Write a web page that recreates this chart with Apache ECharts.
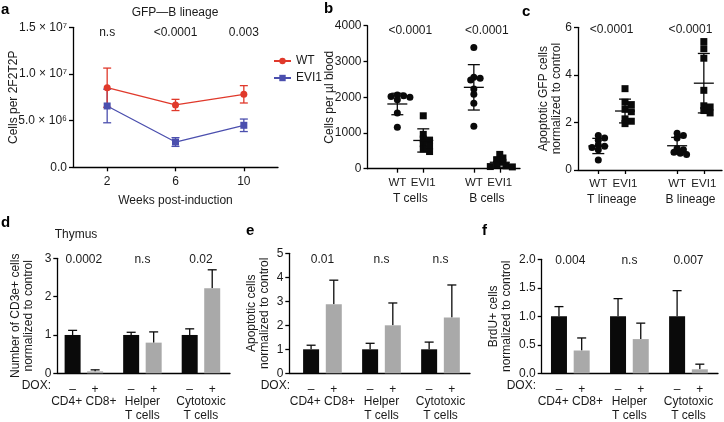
<!DOCTYPE html>
<html><head><meta charset="utf-8">
<script src="https://cdn.jsdelivr.net/npm/echarts@6/dist/echarts.min.js"></script>
<style>html,body{margin:0;padding:0;background:#fff}#c{width:724px;height:422px}</style>
</head><body><div id="c"></div>
<script>
// ---------- DATA ----------
// Panel a: GFP—B lineage
const aWeeks = [2, 6, 10];
const aWtMean = [8.53e6, 6.68e6, 7.82e6];
const aWtErr = [2.1e6, 0.6e6, 0.93e6];
const aEviMean = [6.57e6, 2.71e6, 4.50e6];
const aEviErr = [1.8e6, 0.47e6, 0.67e6];
const aPvals = ['n.s', '<0.0001', '0.003'];
const aYTickLabels = {0: '0.0', 5000000: '5.0 × 10⁶', 10000000: '1.0 × 10⁷', 15000000: '1.5 × 10⁷'};

// Panel b: cells per µl blood
const bCategories = ['WT', 'EVI1', 'WT', 'EVI1'];
const bGroups = ['T cells', 'B cells'];
const bPvals = ['<0.0001', '<0.0001'];
const bWtT = [2060, 2040, 2020, 2000, 1930, 1560, 1160];
const bEviT = [1480, 960, 830, 800, 700, 630, 550, 480];
const bWtB = [3390, 2560, 2530, 2480, 2230, 2080, 1830, 1190];
const bEviB = [400, 300, 250, 180, 120, 80, 60, 50];
const bMeans = [1810, 790, 2276, 180];
const bSD = [300, 325, 635, 140];

// Panel c: apoptotic GFP cells normalized to control
const cCategories = ['WT', 'EVI1', 'WT', 'EVI1'];
const cGroups = ['T lineage', 'B lineage'];
const cPvals = ['<0.0001', '<0.0001'];
const cWtT = [1.45, 1.35, 1.25, 1.05, 1.0, 0.95, 0.85, 0.42];
const cEviT = [3.42, 2.85, 2.75, 2.55, 2.45, 2.15, 2.05, 1.95];
const cWtB = [1.55, 1.45, 1.35, 0.9, 0.85, 0.75, 0.7, 0.65];
const cEviB = [5.40, 5.10, 4.70, 3.35, 2.70, 2.65, 2.50, 2.40];
const cMeans = [1.01, 2.48, 1.02, 3.65];
const cSD = [0.32, 0.50, 0.35, 1.25];

// Panels d, e, f: bar charts (−/+ DOX per group)
const defDox = ['–', '+', '–', '+', '–', '+'];
const defGroups = ['CD4+ CD8+', 'Helper\nT cells', 'Cytotoxic\nT cells'];
const dMeans = [1.0, 0.05, 1.0, 0.8, 1.0, 2.22];
const dErr = [0.12, 0.04, 0.07, 0.28, 0.16, 0.48];
const dPvals = ['0.0002', 'n.s', '0.02'];
const eMeans = [1.0, 2.88, 1.0, 2.0, 1.0, 2.33];
const eErr = [0.17, 1.0, 0.25, 0.93, 0.3, 1.35];
const ePvals = ['0.01', 'n.s', 'n.s'];
const fMeans = [1.0, 0.40, 1.0, 0.6, 1.0, 0.07];
const fErr = [0.17, 0.22, 0.31, 0.28, 0.45, 0.09];
const fPvals = ['0.004', 'n.s', '0.007'];

// ---------- LAYOUT ----------
const FONT = '"Liberation Sans", Arial, Helvetica, sans-serif';
const TXT = '#1a1a1a';
const RED = '#e0392b', BLUE = '#4b4fae', BLACK = '#0a0a0a', GREY = '#a9a9a9';
const posBC = [1, 2, 3.95, 4.95];
const grpBC = [1.5, 4.45];
const posDEF = [0, 1, 2.6, 3.6, 5.2, 6.2];
const grpDEF = [0.5, 3.1, 5.7];

const chart = echarts.init(document.getElementById('c'), null, {renderer: 'canvas'});

const lineS = {color: '#000', width: 1.3};
function labelFor(list, positions) {
  return v => { const i = positions.findIndex(p => Math.abs(p - v) < 1e-6); return i >= 0 ? list[i] : ''; };
}
function mainX(grid, min, max, positions, names, fs, margin, ticks) {
  return {gridIndex: grid, type: 'value', min, max, position: 'bottom',
    axisLine: {show: true, onZero: false, lineStyle: lineS},
    axisTick: ticks ? {show: true, customValues: positions, length: 4, lineStyle: lineS} : {show: false},
    axisLabel: {customValues: positions, formatter: labelFor(names, positions), color: TXT, fontSize: fs, fontFamily: FONT, margin, hideOverlap: false},
    splitLine: {show: false}};
}
function groupX(grid, min, max, positions, names, fs, offset) {
  return {gridIndex: grid, type: 'value', min, max, position: 'bottom', offset,
    axisLine: {show: false}, axisTick: {show: false},
    axisLabel: {customValues: positions, formatter: labelFor(names, positions), color: TXT, fontSize: fs, fontFamily: FONT, margin: 4},
    splitLine: {show: false}};
}
function yAx(grid, min, max, interval, name, gap, fs, fmt) {
  return {gridIndex: grid, type: 'value', min, max, interval,
    name, nameLocation: 'middle', nameRotate: 90, nameGap: gap, nameMoveOverlap: false,
    nameTextStyle: {color: TXT, fontSize: 12, fontFamily: FONT, lineHeight: 13},
    axisLine: {show: true, onZero: false, lineStyle: lineS},
    axisTick: {show: true, length: 4, lineStyle: lineS},
    axisLabel: {color: TXT, fontSize: fs, fontFamily: FONT, margin: 6, formatter: fmt || (v => String(v))},
    splitLine: {show: false}};
}
function errBars(xi, yi, data, color, cap, oneSided, meanW, z) {
  return {type: 'custom', xAxisIndex: xi, yAxisIndex: yi, data, z, silent: true,
    renderItem(params, api) {
      const x = api.value(0), m = api.value(1), e = api.value(2);
      const t = api.coord([x, m + e]);
      const b = api.coord(oneSided ? [x, m] : [x, m - e]);
      const c = api.coord([x, m]);
      const st = {stroke: color, lineWidth: 1.3};
      const ch = [
        {type: 'line', shape: {x1: t[0], y1: t[1], x2: b[0], y2: b[1]}, style: st},
        {type: 'line', shape: {x1: t[0] - cap / 2, y1: t[1], x2: t[0] + cap / 2, y2: t[1]}, style: st}
      ];
      if (!oneSided) ch.push({type: 'line', shape: {x1: b[0] - cap / 2, y1: b[1], x2: b[0] + cap / 2, y2: b[1]}, style: st});
      if (meanW) ch.push({type: 'line', shape: {x1: c[0] - meanW / 2, y1: c[1], x2: c[0] + meanW / 2, y2: c[1]}, style: st});
      return {type: 'group', children: ch};
    }};
}
// text anchored to axis coordinates (p-values, group captions)
function textSeries(xi, yi, xs, yVal, texts, dy) {
  return {type: 'custom', xAxisIndex: xi, yAxisIndex: yi, silent: true, z: 6, clip: false,
    data: xs.map(x => [x, yVal]),
    renderItem(params, api) {
      const p = api.coord([api.value(0), api.value(1)]);
      return {type: 'text', x: p[0], y: p[1] + dy,
        style: {text: texts[params.dataIndex], fill: TXT, font: '12px ' + FONT,
          textAlign: 'center', textVerticalAlign: 'top', lineHeight: 14}};
    }};
}
// simple deterministic beeswarm so that overlapping points spread sideways
function swarm(values, pos, pxPerX, pxPerY, d) {
  const order = values.map((v, i) => i).sort((i, j) => values[j] - values[i]);
  const placed = [], out = [];
  order.forEach(i => {
    const y = values[i] * pxPerY;
    const cands = [0];
    for (let k = 1; k < 12; k++) cands.push(k * d * 0.45, -k * d * 0.45);
    for (const c of cands) {
      if (placed.every(p => Math.hypot(p[0] - c, p[1] - y) >= d * 0.6)) {
        placed.push([c, y]); out.push([pos + c / pxPerX, values[i]]); break;
      }
    }
  });
  return out;
}

// grids (pixel layout)
const grids = [
  {left: 73, top: 27.3, width: 205, height: 140},      // a
  {left: 367.5, top: 25.7, width: 152.5, height: 143}, // b
  {left: 578, top: 27.3, width: 144, height: 142.7},   // c
  {left: 57.3, top: 258.3, width: 172.7, height: 115}, // d
  {left: 289.3, top: 253.3, width: 180.7, height: 120},// e
  {left: 541.7, top: 259.3, width: 176.3, height: 114} // f
];
const bMin = -0.15, bMax = 5.73, cMin = 0.24, cMax = 5.63;
const dMin = -0.68, dMax = 6.99, eMin = -0.96, eMax = 7.0, fMin = -0.76, fMax = 7.0;

const xAxes = [
  // a
  {gridIndex: 0, type: 'value', min: 0, max: 12,
    name: 'Weeks post-induction', nameLocation: 'middle', nameGap: 27, nameMoveOverlap: false,
    nameTextStyle: {color: TXT, fontSize: 12, fontFamily: FONT},
    axisLine: {show: true, onZero: false, lineStyle: lineS},
    axisTick: {show: true, customValues: aWeeks, length: 4, lineStyle: lineS},
    axisLabel: {customValues: aWeeks, color: TXT, fontSize: 12, fontFamily: FONT, margin: 8},
    splitLine: {show: false}},
  mainX(1, bMin, bMax, posBC, bCategories, 11.5, 8, true),
  groupX(1, bMin, bMax, grpBC, bGroups, 12, 20),
  mainX(2, cMin, cMax, posBC, cCategories, 11.5, 8, true),
  groupX(2, cMin, cMax, grpBC, cGroups, 12, 20),
  mainX(3, dMin, dMax, posDEF, defDox, 12, 10, false),
  mainX(4, eMin, eMax, posDEF, defDox, 12, 10, false),
  mainX(5, fMin, fMax, posDEF, defDox, 12, 10, false)
];
const yAxes = [
  yAx(0, 0, 1.5e7, 5e6, 'Cells per 2F2T2P', 53, 12, v => aYTickLabels[v]),
  yAx(1, 0, 4000, 1000, 'Cells per µl blood', 31, 12),
  yAx(2, 0, 6, 2, 'Apoptotic GFP cells\nnormalized to control', 15, 12),
  yAx(3, 0, 3, 1, 'Number of CD3e+ cells\nnormalized to control', 22, 12),
  yAx(4, 0, 5, 1, 'Apoptotic cells\nnormalized to control', 18, 12),
  yAx(5, 0, 2, 0.5, 'BrdU+ cells\nnormalized to control', 29, 12, v => v.toFixed(1))
];

const series = [];
// ---- a ----
series.push(errBars(0, 0, aWeeks.map((w, i) => [w, aEviMean[i], aEviErr[i]]), BLUE, 8, false, 0, 2));
series.push(errBars(0, 0, aWeeks.map((w, i) => [w, aWtMean[i], aWtErr[i]]), RED, 8, false, 0, 3));
series.push({type: 'line', name: 'WT', xAxisIndex: 0, yAxisIndex: 0, z: 4,
  data: aWeeks.map((w, i) => [w, aWtMean[i]]), symbol: 'circle', symbolSize: 7,
  itemStyle: {color: RED}, lineStyle: {color: RED, width: 1.3}});
series.push({type: 'line', name: 'EVI1', xAxisIndex: 0, yAxisIndex: 0, z: 5,
  data: aWeeks.map((w, i) => [w, aEviMean[i]]), symbol: 'rect', symbolSize: 7,
  itemStyle: {color: BLUE}, lineStyle: {color: BLUE, width: 1.3}});
series.push(textSeries(0, 0, aWeeks, 1.5e7, aPvals, -2));

// ---- b ----
const bPxX = 152.5 / (bMax - bMin), bPxY = 143 / 4000;
[[bWtT, 'circle'], [bEviT, 'rect'], [bWtB, 'circle'], [bEviB, 'rect']].forEach(([vals, sym], i) => {
  series.push({type: 'scatter', xAxisIndex: 1, yAxisIndex: 1, symbol: sym, symbolSize: 7, z: 3,
    itemStyle: {color: BLACK, opacity: 1}, data: swarm(vals, posBC[i], bPxX, bPxY, 7)});
});
series.push(errBars(1, 1, posBC.map((p, i) => [p, bMeans[i], bSD[i]]), BLACK, 12, false, 20, 4));
series.push(textSeries(1, 1, grpBC, 4000, bPvals, -2));

// ---- c ----
const cPxX = 144 / (cMax - cMin), cPxY = 142.7 / 6;
[[cWtT, 'circle'], [cEviT, 'rect'], [cWtB, 'circle'], [cEviB, 'rect']].forEach(([vals, sym], i) => {
  series.push({type: 'scatter', xAxisIndex: 3, yAxisIndex: 2, symbol: sym, symbolSize: 7, z: 3,
    itemStyle: {color: BLACK, opacity: 1}, data: swarm(vals, posBC[i], cPxX, cPxY, 7)});
});
series.push(errBars(3, 2, posBC.map((p, i) => [p, cMeans[i], cSD[i]]), BLACK, 12, false, 20, 4));
series.push(textSeries(3, 2, grpBC, 6, cPvals, -5));

// ---- d, e, f ----
[[5, 3, dMeans, dErr, dPvals, 3, -6], [6, 4, eMeans, eErr, ePvals, 5, -1], [7, 5, fMeans, fErr, fPvals, 2, -6]]
  .forEach(([xi, yi, means, errs, pv, top, dy]) => {
    series.push(errBars(xi, yi, posDEF.map((p, i) => [p, means[i], errs[i]]), BLACK, 9, true, 0, 1));
    series.push({type: 'bar', xAxisIndex: xi, yAxisIndex: yi, barWidth: 16, z: 2,
      data: posDEF.map((p, i) => ({value: [p, means[i]], itemStyle: {color: i % 2 === 0 ? BLACK : GREY}}))});
    series.push(textSeries(xi, yi, grpDEF, top, pv, dy));
    series.push(textSeries(xi, yi, grpDEF, 0, defGroups, 21));
  });

const txt = (text, x, y, extra) => ({type: 'text', x, y, silent: true,
  style: Object.assign({text, fill: TXT, font: '12px ' + FONT, textAlign: 'center', textVerticalAlign: 'middle'}, extra || {})});
const bold = {font: 'bold 15px ' + FONT, textAlign: 'left', textVerticalAlign: 'top', fill: '#000'};
const graphics = [
  txt('a', 1, 2, bold), txt('b', 324, 1, bold), txt('c', 522, 4, bold),
  txt('d', 1, 215, bold), txt('e', 246, 223, bold), txt('f', 482, 223, bold),
  txt('GFP—B lineage', 175, 13),
  txt('Thymus', 76, 235),
  txt('DOX:', 51, 386, {textAlign: 'right'}),
  txt('DOX:', 290, 386, {textAlign: 'right'}),
  txt('DOX:', 536, 386, {textAlign: 'right'})
];

chart.setOption({
  animation: false,
  backgroundColor: '#fff',
  grid: grids.map(g => Object.assign({containLabel: false}, g)),
  xAxis: xAxes,
  yAxis: yAxes,
  legend: {data: ['WT', 'EVI1'], left: 268, top: 50, orient: 'vertical', itemWidth: 17, itemHeight: 8, itemGap: 5,
    textStyle: {color: TXT, fontSize: 12, fontFamily: FONT}},
  graphic: graphics,
  series
});
</script></body></html>
